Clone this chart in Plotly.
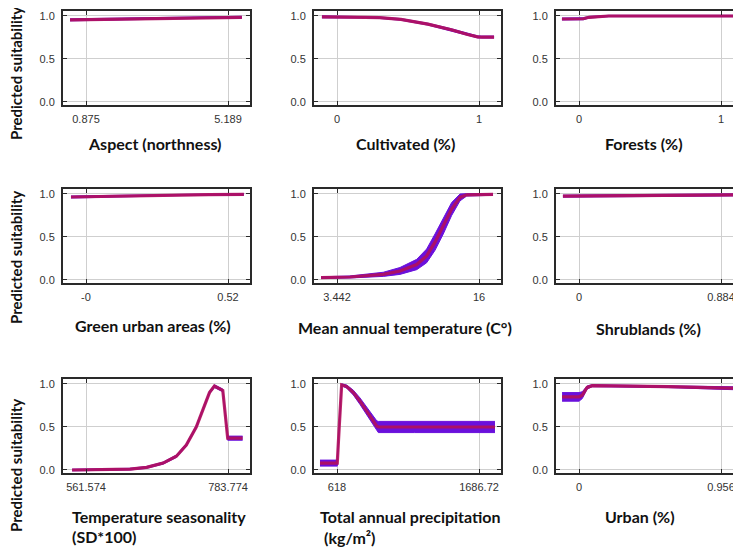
import plotly.graph_objects as go

# ---------------- data ----------------
aspect_x = [0.39, 1.5, 2.5, 3.5, 4.5, 5.61]
aspect_mean = [0.955, 0.962, 0.970, 0.977, 0.982, 0.985]
aspect_sd = [0.012, 0.01, 0.009, 0.009, 0.01, 0.012]

cult_x = [-0.106, 0.0, 0.2, 0.3, 0.45, 0.64, 0.805, 0.92, 0.99, 1.02, 1.106]
cult_mean = [0.99, 0.99, 0.985, 0.98, 0.96, 0.905, 0.84, 0.785, 0.757, 0.755, 0.755]
cult_sd = [0.012, 0.01, 0.009, 0.009, 0.01, 0.011, 0.012, 0.012, 0.012, 0.012, 0.012]

forest_x = [-0.12, 0.03, 0.07, 0.15, 0.21, 0.5, 0.8, 1.1]
forest_mean = [0.965, 0.968, 0.985, 0.99, 1.0, 1.0, 1.0, 1.0]
forest_sd = [0.012, 0.012, 0.01, 0.009, 0.008, 0.008, 0.008, 0.008]

green_x = [-0.055, 0.05, 0.15, 0.25, 0.35, 0.45, 0.578]
green_mean = [0.965, 0.972, 0.980, 0.986, 0.990, 0.993, 0.995]
green_sd = [0.012, 0.011, 0.01, 0.009, 0.009, 0.01, 0.011]

temp_x = [2.03, 4.59, 7.54, 9.01, 10.49, 11.37, 12.11, 12.84, 13.58, 14.32, 14.91, 17.24]
temp_mean = [0.027, 0.035, 0.066, 0.105, 0.18, 0.28, 0.44, 0.63, 0.825, 0.96, 0.99, 0.995]
temp_sd = [0.01, 0.012, 0.024, 0.04, 0.06, 0.08, 0.095, 0.095, 0.075, 0.04, 0.014, 0.01]

shrub_x = [-0.1, 0.1, 0.3, 0.5, 0.7, 0.984]
shrub_mean = [0.975, 0.978, 0.982, 0.985, 0.987, 0.99]
shrub_sd = [0.012, 0.011, 0.01, 0.01, 0.011, 0.012]

season_x = [539.8, 630.4, 656.4, 682.3, 703.0, 718.5, 734.1, 747.0, 754.8, 762.5,
            767.8, 775.6, 783.3, 806.6]
season_mean = [0.0, 0.01, 0.03, 0.08, 0.16, 0.29, 0.5, 0.74, 0.9, 0.975,
               0.955, 0.925, 0.37, 0.37]
season_sd = [0.01, 0.01, 0.011, 0.012, 0.014, 0.016, 0.016, 0.016, 0.016, 0.016,
             0.016, 0.016, 0.024, 0.024]

precip_x = [490, 620, 635, 653, 691, 741, 791, 841, 917, 929, 1200, 1500, 1807]
precip_mean = [0.08, 0.08, 0.51, 0.99, 0.97, 0.9, 0.8, 0.69, 0.51, 0.5, 0.5, 0.5, 0.5]
precip_sd = [0.035, 0.035, 0.02, 0.012, 0.018, 0.028, 0.038, 0.048, 0.062, 0.065, 0.065, 0.065, 0.065]

urban_x = [-0.114, 0.0, 0.022, 0.055, 0.089, 0.3, 0.6, 0.936, 1.056]
urban_mean = [0.85, 0.85, 0.87, 0.96, 0.98, 0.977, 0.97, 0.955, 0.95]
urban_sd = [0.05, 0.05, 0.04, 0.018, 0.012, 0.01, 0.012, 0.016, 0.017]

panels = [
    (["Aspect (northness)"], aspect_x, aspect_mean, aspect_sd, [0.875, 5.189], ["0.875", "5.189"]),
    (["Cultivated (%)"], cult_x, cult_mean, cult_sd, [0, 1], ["0", "1"]),
    (["Forests (%)"], forest_x, forest_mean, forest_sd, [0, 1], ["0", "1"]),
    (["Green urban areas (%)"], green_x, green_mean, green_sd, [0, 0.52], ["-0", "0.52"]),
    (["Mean annual temperature (C°)"], temp_x, temp_mean, temp_sd, [3.442, 16], ["3.442", "16"]),
    (["Shrublands (%)"], shrub_x, shrub_mean, shrub_sd, [0, 0.884], ["0", "0.884"]),
    (["Temperature seasonality", "(SD*100)"], season_x, season_mean, season_sd,
     [561.574, 783.774], ["561.574", "783.774"]),
    (["Total annual precipitation", "(kg/m²)"], precip_x, precip_mean, precip_sd,
     [618, 1686.72], ["618", "1686.72"]),
    (["Urban (%)"], urban_x, urban_mean, urban_sd, [0, 0.956], ["0", "0.956"]),
]
y_ticks = [0.0, 0.5, 1.0]
y_ticktext = ["0.0", "0.5", "1.0"]
y_title = "Predicted suitability"

# ---------------- layout geometry (page pixels) ----------------
PAGE_W, PAGE_H = 741, 548
OFF = 8                      # default page body margin
W, H = PAGE_W - OFF, PAGE_H - OFF


def fx(px):
    return (px - OFF) / W


def fy(py):
    return 1 - (py - OFF) / H


col_px = [(63, 250), (314, 501), (556, 741)]
row_px = [(11, 105), (189, 283), (379, 473)]
TICK_L, TICK_SPAN = 23, 142  # tick0 offset from box left, pixel gap between ticks

BAND = "#6a10dc"
MEAN = "#b3105c"
BOX = "#2a2a2a"
GRID = "#cfcfcf"

fig = go.Figure()
layout = dict(
    width=W, height=H, autosize=False,
    margin=dict(l=0, r=0, t=0, b=0, autoexpand=False),
    paper_bgcolor="white", plot_bgcolor="white",
    showlegend=False,
)
annotations = []

for i, (title, xs, mean, sd, xt, xtt) in enumerate(panels):
    r, c = divmod(i, 3)
    n = i + 1
    xa = "x" if n == 1 else f"x{n}"
    ya = "y" if n == 1 else f"y{n}"
    upper = [m + s for m, s in zip(mean, sd)]
    lower = [m - s for m, s in zip(mean, sd)]
    fig.add_trace(go.Scatter(x=xs, y=upper, mode="lines", line=dict(color=BAND, width=1),
                             xaxis=xa, yaxis=ya, hoverinfo="skip"))
    fig.add_trace(go.Scatter(x=xs, y=lower, mode="lines", line=dict(color=BAND, width=1),
                             fill="tonexty", fillcolor=BAND, xaxis=xa, yaxis=ya, hoverinfo="skip"))
    fig.add_trace(go.Scatter(x=xs, y=mean, mode="lines", line=dict(color=MEAN, width=3.2),
                             opacity=0.9, xaxis=xa, yaxis=ya))

    x0p, x1p = col_px[c]
    y0p, y1p = row_px[r]
    x1p = min(x1p, PAGE_W)
    upp = (xt[1] - xt[0]) / TICK_SPAN
    box_w = x1p - x0p
    xr = [xt[0] - TICK_L * upp, xt[0] + (box_w - TICK_L) * upp]
    axis_common = dict(
        showline=True, linecolor=BOX, linewidth=2, mirror="allticks",
        ticks="inside", ticklen=4, tickcolor=BOX, tickwidth=1,
        showgrid=True, gridcolor=GRID, gridwidth=1, zeroline=False,
        tickfont=dict(family="Liberation Sans, Arial", size=11, color="#333"),
        fixedrange=True, automargin=False,
    )
    layout["xaxis" if n == 1 else f"xaxis{n}"] = dict(
        axis_common, domain=[fx(x0p), min(1.0, fx(x1p))], range=xr,
        tickmode="array", tickvals=xt, ticktext=xtt, anchor=ya,
        ticklabelstandoff=3,
    )
    layout["yaxis" if n == 1 else f"yaxis{n}"] = dict(
        axis_common, domain=[fy(y1p), fy(y0p)], range=[-0.035, 1.058],
        tickmode="array", tickvals=y_ticks, ticktext=y_ticktext, anchor=xa,
        ticklabelstandoff=4,
    )

# axis titles as annotations
title_font = dict(family="Lato, Open Sans, sans-serif", size=16, color="#111")
ytitle_font = dict(family="Lato, Open Sans, sans-serif", size=15, color="#111")
title_pos = [
    [(155, 144, "center")], [(405, 143, "center")], [(644, 143, "center")],
    [(153, 325, "center")], [(405, 327, "center")], [(648, 328, "center")],
    [(70, 517, "left"), (70, 536, "left")],
    [(318, 516, "left"), (322, 537, "left")],
    [(640, 517, "center")],
]
for (lines, *_), poss in zip(panels, title_pos):
    for line, (px, py, al) in zip(lines, poss):
        annotations.append(dict(
            text=f"<b>{line}</b>", xref="paper", yref="paper",
            x=fx(px), y=fy(py), xanchor=al, yanchor="middle",
            showarrow=False, font=title_font,
        ))
for py in (74, 258, 466):
    annotations.append(dict(
        text=f"<b>{y_title}</b>", xref="paper", yref="paper",
        x=fx(16), y=fy(py), xanchor="center", yanchor="middle",
        textangle=-90, showarrow=False, font=ytitle_font,
    ))
layout["annotations"] = annotations
fig.update_layout(**layout)
fig.write_html("out.html")
